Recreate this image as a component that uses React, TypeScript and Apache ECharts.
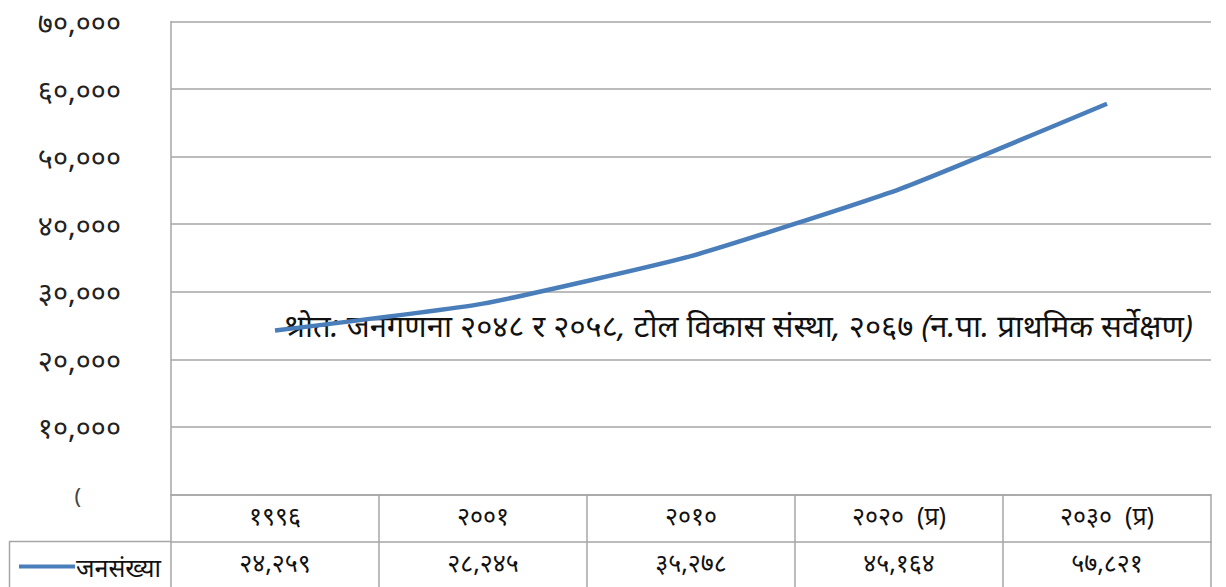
import React, { useEffect, useRef } from "react";
import * as echarts from "echarts";

const categories = ["१९९६", "२००१", "२०१०", "२०२०  (प्र)", "२०३०  (प्र)"];
const population = [24259, 28245, 35278, 45164, 57821];
const seriesName = "जनसंख्या";
const sourceNote = "श्रोत: जनगणना २०४८ र २०५८, टोल विकास संस्था, २०६७ (न.पा. प्राथमिक सर्वेक्षण)";

const devDigits = "०१२३४५६७८९";
const toDev = (n: number) =>
  n
    .toLocaleString("en-US")
    .replace(/[0-9]/g, (d) => devDigits[Number(d)]);

const GRID = "#a6a6a6";
const FONT = "'Noto Sans', 'DejaVu Sans', sans-serif";

export default function App() {
  const ref = useRef<HTMLDivElement>(null);
  useEffect(() => {
    if (!ref.current) return;
    const chart = echarts.init(ref.current, undefined, { renderer: "svg" });
    chart.setOption({
      animation: false,
      textStyle: { fontFamily: FONT },
      grid: { left: 171, top: 21.5, right: 15, bottom: 92.5, containLabel: false },
      legend: {
        left: 14,
        top: 549,
        icon: "rect",
        itemWidth: 56,
        itemHeight: 4,
        itemGap: 2,
        textStyle: { fontSize: 25, color: "#111", fontFamily: FONT, padding: [0, 0, 0, -4] },
        data: [seriesName],
      },
      xAxis: [
        {
          type: "category",
          data: categories,
          position: "bottom",
          boundaryGap: true,
          axisLine: { show: true, lineStyle: { color: GRID, width: 1.5 } },
          axisTick: { show: true, length: 93, lineStyle: { color: GRID, width: 1.5 } },
          axisLabel: { margin: 8, fontSize: 25, color: "#111", fontFamily: FONT },
          splitLine: { show: false },
        },
        {
          type: "category",
          data: population.map(toDev),
          position: "bottom",
          offset: 47,
          boundaryGap: true,
          axisLine: { show: true, lineStyle: { color: GRID, width: 1.5 } },
          axisTick: { show: false },
          axisLabel: { margin: 8, fontSize: 25, color: "#111", fontFamily: FONT },
          splitLine: { show: false },
        },
      ],
      yAxis: {
        type: "value",
        min: 0,
        max: 70000,
        interval: 10000,
        axisLine: { show: true, lineStyle: { color: GRID, width: 1.5 } },
        axisTick: { show: false },
        splitLine: { show: true, lineStyle: { color: GRID, width: 1.5 } },
        axisLabel: {
          margin: 50,
          fontSize: 29,
          color: "#222",
          fontFamily: FONT,
          formatter: (v: number) => (v === 0 ? "{z|(}" : toDev(v)),
          rich: { z: { fontSize: 22, color: "#444", padding: [0, 40, 0, 0] } },
        },
      },
      series: [
        {
          name: seriesName,
          type: "line",
          data: population,
          smooth: 0.15,
          symbol: "none",
          lineStyle: { color: "#4a7ebb", width: 4.5 },
          itemStyle: { color: "#4a7ebb" },
        },
      ],
      graphic: [
        {
          type: "line",
          shape: { x1: 9, y1: 541.5, x2: 171, y2: 541.5 },
          style: { stroke: GRID, lineWidth: 1.5 },
        },
        {
          type: "line",
          shape: { x1: 9.5, y1: 541.5, x2: 9.5, y2: 587 },
          style: { stroke: GRID, lineWidth: 1.5 },
        },
        {
          type: "text",
          left: 283,
          top: 309,
          style: {
            text: sourceNote,
            fontSize: 31,
            fontStyle: "italic",
            fill: "#111",
            fontFamily: FONT,
          },
        },
      ],
    });
    return () => chart.dispose();
  }, []);
  return <div ref={ref} style={{ width: 1226, height: 587, position: "absolute", left: 0, top: 0 }} />;
}
